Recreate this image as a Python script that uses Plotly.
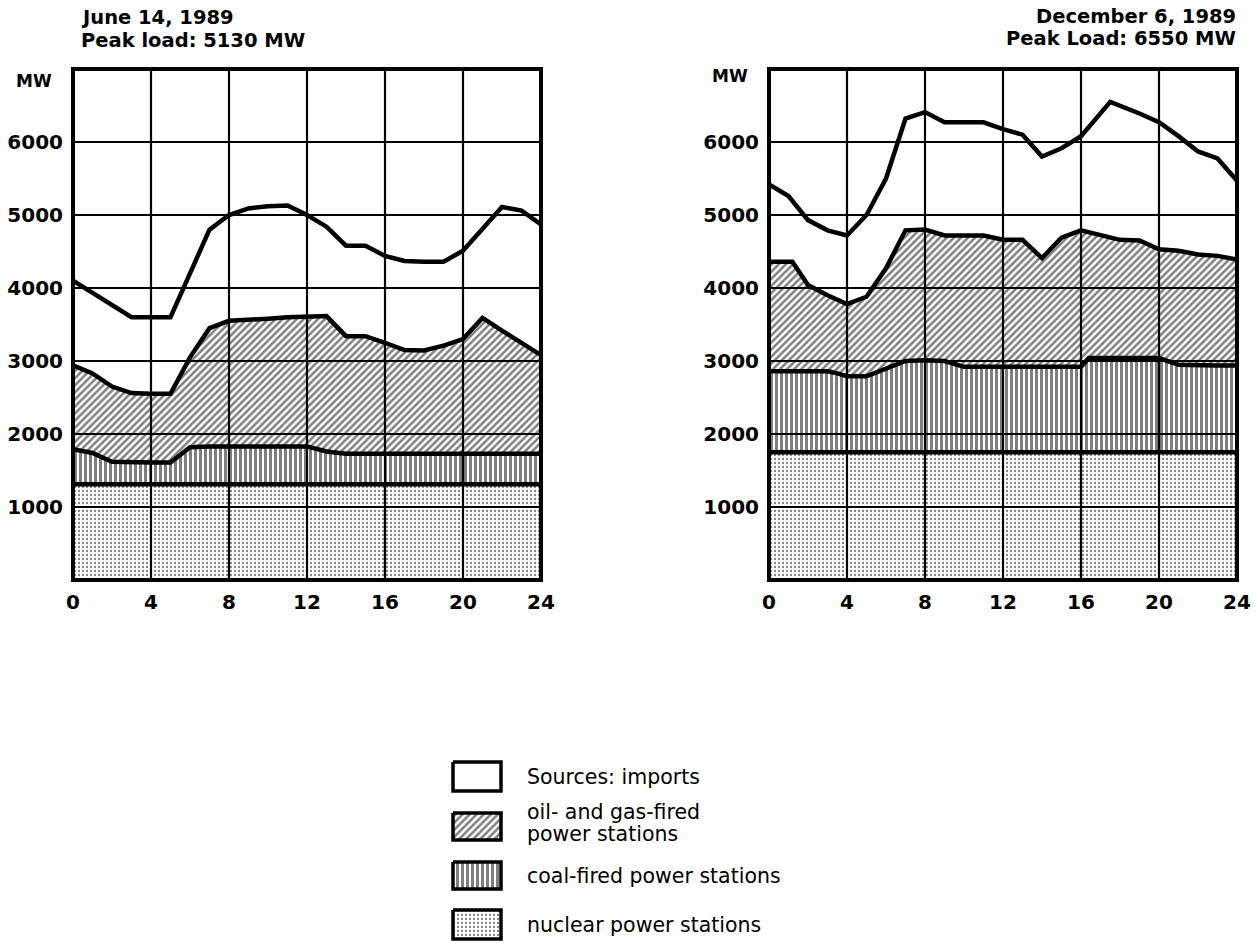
import plotly.graph_objects as go

W, H = 1259, 943

# ---------------- data ----------------
x_ticks = [0, 4, 8, 12, 16, 20, 24]
y_ticks = [1000, 2000, 3000, 4000, 5000, 6000]
y_max = 7000

# June 14, 1989  (MW, cumulative tops of each source band)
jun_hours = [0, 1, 2, 3, 4, 5, 6, 7, 8, 9, 10, 11, 12,
             13, 14, 15, 16, 17, 18, 19, 20, 21, 22, 23, 24]
jun_total = [4100, 3930, 3760, 3600, 3600, 3600, 4200, 4800, 5000, 5090, 5120, 5130, 5000,
             4840, 4580, 4580, 4440, 4370, 4360, 4360, 4510, 4810, 5110, 5060, 4870]
jun_oil = [2940, 2830, 2650, 2560, 2550, 2550, 3050, 3450, 3550, 3560, 3580, 3600, 3610,
           3615, 3340, 3340, 3250, 3150, 3145, 3210, 3300, 3590, 3415, 3250, 3080]
jun_coal = [1790, 1740, 1620, 1610, 1610, 1610, 1820, 1830, 1830, 1830, 1830, 1830, 1830,
            1760, 1730, 1730, 1730, 1730, 1730, 1730, 1730, 1730, 1730, 1730, 1730]
jun_nuclear_hours = [0, 24]
jun_nuclear = [1310, 1310]

# December 6, 1989
dec_total_hours = [0, 1, 2, 3, 4, 5, 6, 7, 8, 9, 10, 11, 12,
                   13, 14, 15, 16, 17.5, 19, 20, 21, 22, 23, 24]
dec_total = [5420, 5260, 4930, 4790, 4720, 5000, 5500, 6320, 6410, 6270, 6270, 6270, 6175,
             6100, 5800, 5915, 6080, 6550, 6390, 6270, 6080, 5870, 5775, 5470]
dec_oil_hours = [0, 1.2, 2, 3, 4, 5, 6, 7, 8, 9, 10, 11, 12,
                 13, 14, 15, 16, 17, 18, 19, 20, 21, 22, 23, 24]
dec_oil = [4360, 4360, 4040, 3900, 3780, 3880, 4270, 4790, 4800, 4720, 4720, 4720, 4660,
           4660, 4410, 4690, 4790, 4720, 4660, 4650, 4530, 4510, 4460, 4440, 4390]
dec_coal_hours = [0, 1, 2, 3, 3.5, 4, 5, 6, 7, 8, 9, 10, 11, 12,
                  13, 14, 15, 16, 16.4, 17, 18, 19, 20, 21, 22, 23, 24]
dec_coal = [2860, 2860, 2860, 2860, 2830, 2790, 2790, 2900, 3000, 3010, 3000, 2920, 2920, 2920,
            2920, 2920, 2920, 2920, 3040, 3040, 3040, 3040, 3040, 2950, 2940, 2940, 2940]
dec_nuclear_hours = [0, 24]
dec_nuclear = [1750, 1750]

legend_labels = ["Sources: imports", "oil- and gas-fired<br>power stations",
                 "coal-fired power stations", "nuclear power stations"]

# ---------------- styles ----------------
INK = "black"
BAND_LINE = 4.5
GRID_W = 2.2
FRAME_W = 4

patterns = {
    "imports": None,
    "oil": dict(shape="/", fgcolor=INK, bgcolor="white", size=5, solidity=0.5),
    "coal": dict(shape="|", fgcolor=INK, bgcolor="white", size=5, solidity=0.6),
    "nuclear": dict(shape=".", fgcolor=INK, bgcolor="white", size=4, solidity=0.25),
}

# plot-area placement (pixels)
LEFT_X = (73, 541)
RIGHT_X = (769, 1237)
PLOT_Y = (69, 580)
LEGEND_X = (440, 820)
LEGEND_Y = (745, 943)


def dom_x(px):
    return [px[0] / W, px[1] / W]


def dom_y(py):
    return [1 - py[1] / H, 1 - py[0] / H]


fig = go.Figure()


def add_panel(xa, ya, nuc_h, nuc, coal_h, coal, oil_h, oil, tot_h, tot):
    common = dict(mode="lines", line=dict(color=INK, width=BAND_LINE),
                  xaxis=xa, yaxis=ya, hoverinfo="skip", showlegend=False)
    fig.add_trace(go.Scatter(x=nuc_h, y=nuc, fill="tozeroy", fillcolor="white",
                             fillpattern=patterns["nuclear"], **common))
    fig.add_trace(go.Scatter(x=coal_h, y=coal, fill="tonexty", fillcolor="white",
                             fillpattern=patterns["coal"], **common))
    fig.add_trace(go.Scatter(x=oil_h, y=oil, fill="tonexty", fillcolor="white",
                             fillpattern=patterns["oil"], **common))
    fig.add_trace(go.Scatter(x=tot_h, y=tot, **common))


add_panel("x", "y", jun_nuclear_hours, jun_nuclear, jun_hours, jun_coal,
          jun_hours, jun_oil, jun_hours, jun_total)
add_panel("x2", "y2", dec_nuclear_hours, dec_nuclear, dec_coal_hours, dec_coal,
          dec_oil_hours, dec_oil, dec_total_hours, dec_total)

# ---------------- legend swatches (pixel-scaled legend axes) ----------------
SW_X = (453, 501)
SW_ROWS = [(762, 791), (813, 840), (862, 889), (910, 939)]
sw_patterns = [patterns["imports"], patterns["oil"], patterns["coal"], patterns["nuclear"]]
for (y0, y1), pat in zip(SW_ROWS, sw_patterns):
    kw = dict(fillpattern=pat) if pat else {}
    fig.add_trace(go.Scatter(
        x=[SW_X[0], SW_X[1], SW_X[1], SW_X[0], SW_X[0]],
        y=[y0, y0, y1, y1, y0],
        mode="lines", fill="toself", fillcolor="white",
        line=dict(color=INK, width=3.5), xaxis="x3", yaxis="y3",
        hoverinfo="skip", showlegend=False, **kw))

TEXT_X = 525
text_rows = [[(777, legend_labels[0])],
             [(812, legend_labels[1].split("<br>")[0]), (834, legend_labels[1].split("<br>")[1])],
             [(876, legend_labels[2])],
             [(925, legend_labels[3])]]
annotations = []
for row in text_rows:
    for ty, txt in row:
        annotations.append(dict(
            text=txt, xref="paper", yref="paper", x=TEXT_X / W, y=1 - ty / H,
            xanchor="left", yanchor="middle", showarrow=False,
            font=dict(family="DejaVu Sans", size=20.5, color=INK)))

# ---------------- panel titles ----------------
title_font = dict(family="DejaVu Sans", size=19.5, color=INK, weight="bold")
for txt, tx, ty, anchor in [("June 14, 1989", 79, 17, "left"),
                            ("Peak load: 5130 MW", 79, 40, "left"),
                            ("December 6, 1989", 1238, 16, "right"),
                            ("Peak Load: 6550 MW", 1238, 39, "right")]:
    annotations.append(dict(text=txt, xref="paper", yref="paper", x=tx / W, y=1 - ty / H,
                            xanchor=anchor, yanchor="middle", showarrow=False,
                            font=title_font))

# unit label above the y ticks
for xa, ya, ys in [("x", "y", -12), ("x2", "y2", -7)]:
    annotations.append(dict(text="MW", xref=f"{xa} domain", yref=ya, x=0, y=y_max,
                            xanchor="right", yanchor="middle", xshift=-19, yshift=ys,
                            showarrow=False,
                            font=dict(family="DejaVu Sans", size=17, color=INK, weight="bold")))

# ---------------- grid and frame drawn over the fills ----------------
shapes = []
for xa, ya in [("x", "y"), ("x2", "y2")]:
    for xv in x_ticks[1:-1]:
        shapes.append(dict(type="line", xref=xa, yref=f"{ya} domain", x0=xv, x1=xv, y0=0, y1=1,
                           line=dict(color=INK, width=GRID_W), layer="above"))
    for yv in y_ticks:
        shapes.append(dict(type="line", xref=f"{xa} domain", yref=ya, x0=0, x1=1, y0=yv, y1=yv,
                           line=dict(color=INK, width=GRID_W), layer="above"))
    shapes.append(dict(type="rect", xref=f"{xa} domain", yref=f"{ya} domain",
                       x0=0, x1=1, y0=0, y1=1, line=dict(color=INK, width=FRAME_W),
                       layer="above"))

tick_font = dict(family="DejaVu Sans", size=20, color=INK, weight="bold")
xaxis_common = dict(range=[0, 24], tickvals=x_ticks, ticktext=[str(v) for v in x_ticks],
                    showgrid=False, zeroline=False, showline=False, ticks="",
                    tickfont=tick_font, ticklabelstandoff=8, fixedrange=True,
                    automargin=False)
yaxis_common = dict(range=[0, y_max], tickvals=y_ticks, ticktext=[str(v) for v in y_ticks],
                    showgrid=False, zeroline=False, showline=False, ticks="",
                    tickfont=tick_font, ticklabelstandoff=9, fixedrange=True,
                    automargin=False)

fig.update_layout(
    width=W, height=H, margin=dict(l=0, r=0, t=0, b=0, autoexpand=False),
    paper_bgcolor="white", plot_bgcolor="rgba(0,0,0,0)",
    showlegend=False,
    xaxis=dict(domain=dom_x(LEFT_X), anchor="y", **xaxis_common),
    yaxis=dict(domain=dom_y(PLOT_Y), anchor="x", **yaxis_common),
    xaxis2=dict(domain=dom_x(RIGHT_X), anchor="y2", **xaxis_common),
    yaxis2=dict(domain=dom_y(PLOT_Y), anchor="x2", **yaxis_common),
    xaxis3=dict(domain=dom_x(LEGEND_X), range=list(LEGEND_X), visible=False,
                fixedrange=True, anchor="y3", automargin=False),
    yaxis3=dict(domain=dom_y(LEGEND_Y), range=[LEGEND_Y[1], LEGEND_Y[0]], visible=False,
                fixedrange=True, anchor="x3", automargin=False),
    annotations=annotations,
    shapes=shapes,
)

fig.write_html("out.html")
